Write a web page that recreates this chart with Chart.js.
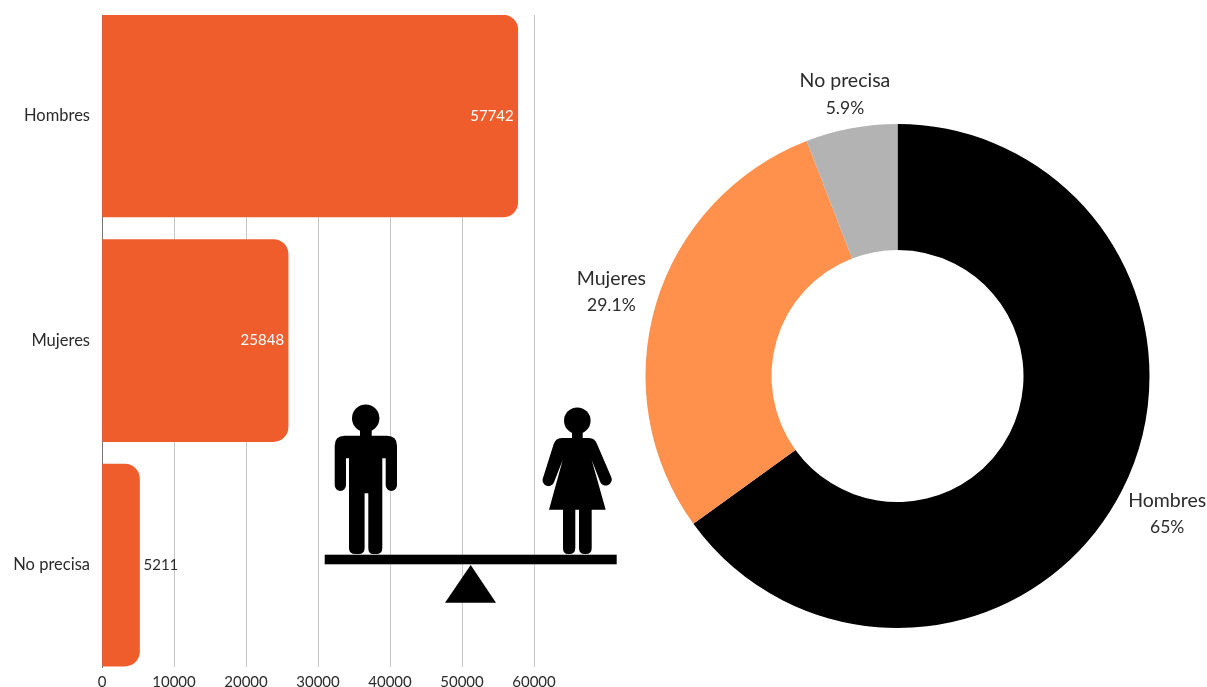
<!DOCTYPE html>
<html>
<head>
<meta charset="utf-8">
<title>Hombres y mujeres</title>
<script src="https://cdn.jsdelivr.net/npm/chart.js@4"></script>
<style>
  html, body { margin: 0; padding: 0; background: #fff; overflow: hidden; }
  #page { position: relative; width: 1207px; height: 687px; }
  #barWrap { position: absolute; left: 0; top: 0; width: 620px; height: 687px; }
  #pieWrap { position: absolute; left: 560px; top: 0; width: 647px; height: 687px; }
  #figures { position: absolute; left: 0; top: 0; pointer-events: none; }
</style>
</head>
<body>
<div id="page">
  <div id="barWrap"><canvas id="byGender"></canvas></div>
  <div id="pieWrap"><canvas id="byShare"></canvas></div>
  <!-- seesaw pictogram, decoration only -->
  <svg id="figures" width="1207" height="687" viewBox="0 0 1207 687" fill="#000">
    <circle cx="365.7" cy="418.3" r="13.7"/>
    <path d="M360 425h11.7v10.7h15.3q9.999 0 9.999 10v39.6a5.65 5.65 0 0 1-11.3 0V458.3h-3.4V548q0 6-6 6h-3q-5 0-5-6V493.3h-3.7V548q0 6-6 6h-3q-6.600 0-6.600-6V458.3H346v27a5.65 5.65 0 0 1-11.3 0v-39.600q0-10 10-10H360z"/>
    <circle cx="577.3" cy="420.7" r="13.3"/>
    <path d="M572 428h10.700v10H589q6 0 8 6l14.200 33a5.800 5.800 0 0 1-11 5L591.700 460l14 49.700H591.700V548q0 6-6 6h-1q-5.700 0-5.700-6V509.700h-3.700V548q0 6-6 6h-1.300q-5 0-5-6V509.700H549l13.700-49.700-8.700 22.300a5.800 5.800 0 0 1-11-4.300l10.700-34q2-6 8-6H572z"/>
    <rect x="324.7" y="554.7" width="292" height="9.600"/>
    <path d="M470.700 565L496 602.700H445z"/>
  </svg>
</div>
<script>
const categories = ["Hombres", "Mujeres", "No precisa"];
const counts = [57742, 25848, 5211];
const shares = ["65%", "29.1%", "5.9%"];
const xTicks = [0, 10000, 20000, 30000, 40000, 50000, 60000];

const FONT = "Lato";
const TEXT = "#2b2b2b";
const ORANGE = "#f05d2d";
const PIE_COLORS = ["#000000", "#ff914d", "#b3b3b3"];

Chart.defaults.animation = false;
Chart.defaults.font.family = FONT;
Chart.defaults.color = TEXT;

// value next to the bar end: inside for long bars, outside for short ones
const barValues = {
  id: "barValues",
  afterDatasetsDraw(chart) {
    const ctx = chart.ctx;
    ctx.save();
    ctx.font = "15px " + FONT;
    ctx.textBaseline = "middle";
    chart.getDatasetMeta(0).data.forEach((bar, i) => {
      if (counts[i] > 10000) {
        ctx.fillStyle = "#ffffff";
        ctx.textAlign = "right";
        ctx.fillText(counts[i], bar.x - 4, bar.y);
      } else {
        ctx.fillStyle = TEXT;
        ctx.textAlign = "left";
        ctx.fillText(counts[i], bar.x + 4, bar.y);
      }
    });
    ctx.restore();
  },
};

// two line labels around the doughnut
const pieLabels = {
  id: "pieLabels",
  afterDatasetsDraw(chart) {
    const ctx = chart.ctx;
    ctx.save();
    ctx.fillStyle = TEXT;
    ctx.textAlign = "center";
    ctx.textBaseline = "middle";
    chart.getDatasetMeta(0).data.forEach((arc, i) => {
      const mid = (arc.startAngle + arc.endAngle) / 2;
      const dist = arc.outerRadius + 32 + Math.abs(Math.cos(mid)) * 15 + Math.max(0, Math.sin(mid)) * 12;
      const x = arc.x + Math.cos(mid) * dist;
      const y = arc.y + Math.sin(mid) * dist;
      ctx.font = "19.5px " + FONT;
      ctx.fillText(categories[i], x, y - 13);
      ctx.font = "17.5px " + FONT;
      ctx.fillText(shares[i], x, y + 14);
    });
    ctx.restore();
  },
};

new Chart(document.getElementById("byGender"), {
  type: "bar",
  data: {
    datasets: [
      {
        data: counts.map((v, i) => ({ x: v, y: i })),
        backgroundColor: ORANGE,
        barThickness: 202,
        borderRadius: { topLeft: 0, bottomLeft: 0, topRight: 15, bottomRight: 15 },
        borderSkipped: false,
      },
    ],
  },
  options: {
    indexAxis: "y",
    responsive: true,
    maintainAspectRatio: false,
    layout: { padding: { top: 15, right: 86, left: 0, bottom: 0 } },
    plugins: { legend: { display: false }, tooltip: { enabled: false } },
    scales: {
      x: {
        type: "linear",
        min: 0,
        max: 60000,
        afterBuildTicks: (scale) => { scale.ticks = xTicks.map((value) => ({ value })); },
        afterFit: (scale) => {
          scale.height = 20;
          scale.paddingLeft = 0;
          scale.paddingRight = 0;
        },
        grid: { color: "#c8c8c8", lineWidth: 1, drawTicks: false },
        border: { display: false },
        ticks: {
          padding: 6,
          maxRotation: 0,
          autoSkip: false,
          font: { size: 15 },
          callback: (v) => String(v),
        },
      },
      y: {
        type: "linear",
        reverse: true,
        offset: false,
        min: -0.45,
        max: 2.454,
        afterBuildTicks: (scale) => { scale.ticks = categories.map((c, i) => ({ value: i })); },
        afterFit: (scale) => {
          scale.width = 102;
          scale.paddingTop = 0;
          scale.paddingBottom = 0;
        },
        grid: { display: false, drawTicks: false },
        border: { display: true, color: "#777777", width: 1 },
        ticks: {
          padding: 12,
          autoSkip: false,
          font: { size: 16.5 },
          callback: (v) => categories[v],
        },
      },
    },
  },
  plugins: [barValues],
});

new Chart(document.getElementById("byShare"), {
  type: "doughnut",
  data: {
    labels: categories,
    datasets: [{ data: counts, backgroundColor: PIE_COLORS, borderWidth: 0 }],
  },
  options: {
    responsive: true,
    maintainAspectRatio: false,
    cutout: "50%",
    layout: { padding: { top: 124, bottom: 59, left: 85.5, right: 57.5 } },
    plugins: { legend: { display: false }, tooltip: { enabled: false } },
  },
  plugins: [pieLabels],
});
</script>
</body>
</html>
